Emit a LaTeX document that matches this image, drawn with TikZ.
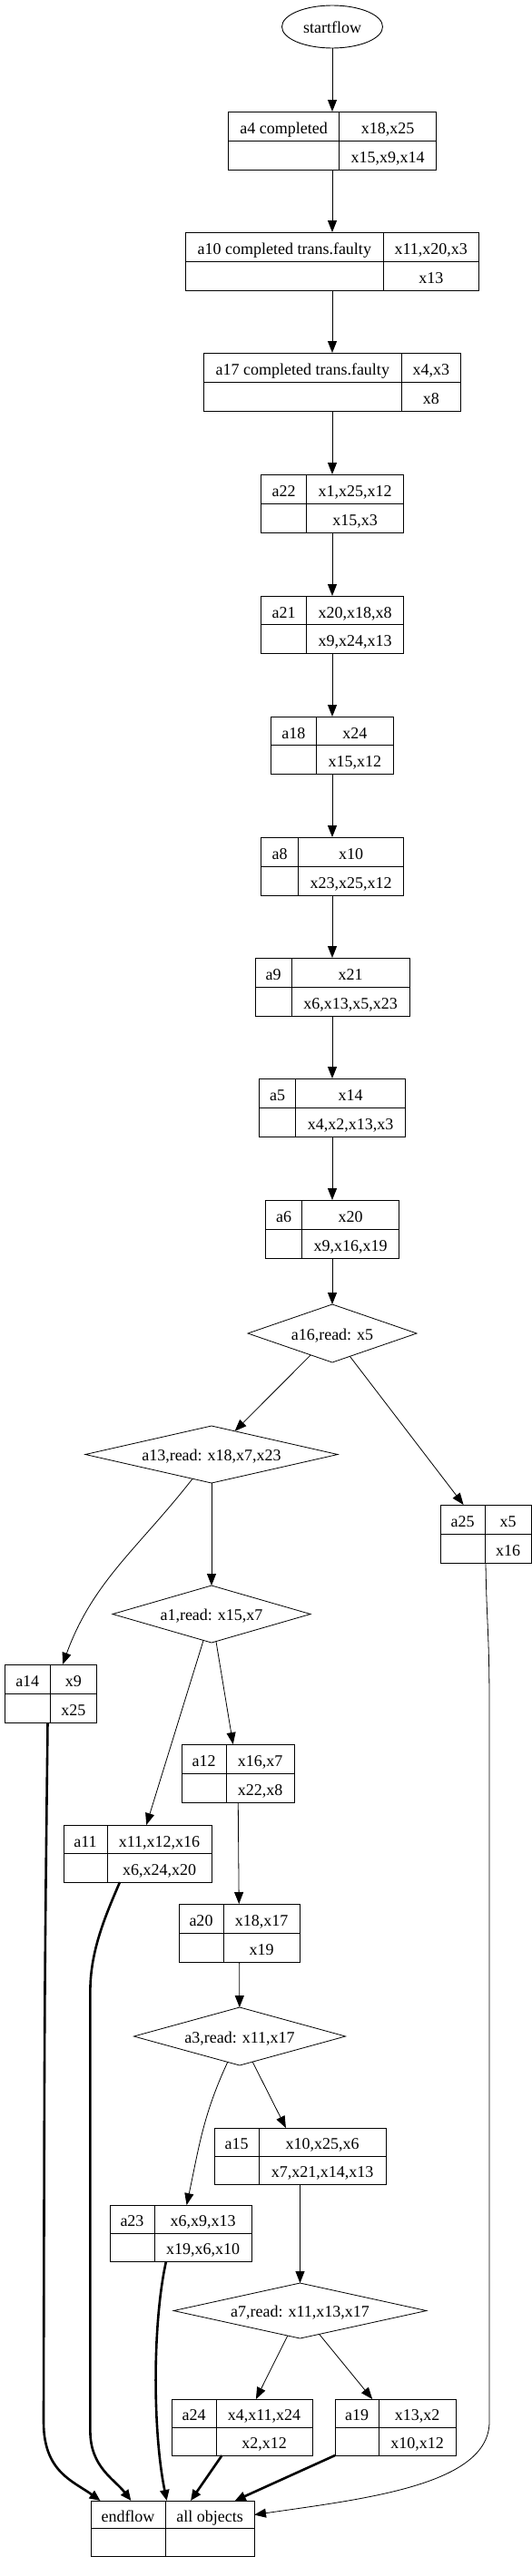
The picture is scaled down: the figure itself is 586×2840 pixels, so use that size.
\documentclass[tikz,border=0pt]{standalone}
\usepackage{fontspec}
\setmainfont{Liberation Serif}
\usetikzlibrary{arrows.meta,shapes.geometric,calc}
\tikzset{
  recbox/.style={draw, line width=1pt, inner sep=0pt, outer sep=0pt, anchor=north west},
  cell/.style={inner sep=0pt, text height=16.6pt, text depth=0pt, font=\fontsize{18}{20}\selectfont},
  dia/.style={diamond, draw, line width=0.8pt, inner sep=0pt, outer sep=0pt, shape aspect=4, text height=14pt, text depth=0pt, font=\fontsize{18}{20}\selectfont},
  ell/.style={ellipse, draw, line width=0.9pt, inner sep=0pt, outer sep=0pt, text height=14pt, text depth=0pt, font=\fontsize{18}{20}\selectfont},
  flow/.style={line width=1pt, -{Triangle[length=13pt,width=10pt]}},
  thinflow/.style={line width=0.8pt, -{Triangle[length=13pt,width=10pt]}},
  thickflow/.style={line width=2.6pt, -{Triangle[length=12pt,width=10pt]}},
}
% name, x1, y1, x2, y2, xdiv, left, topright, bottomright
\newcommand{\rec}[9]{%
  \node[recbox, minimum width={(#4-#2)*1pt}, minimum height={(#5-#3)*1pt}] (#1) at (#2,-#3) {};
  \draw[line width=1pt] (#6,-#3) -- (#6,-#5);
  \draw[line width=1pt] (#2,{-(#3+#5)/2}) -- (#4,{-(#3+#5)/2});
  \node[cell] (#1-l) at ({(#2+#6)/2},{-(3*#3+#5)/4}) {#7};
  \node[cell] (#1-t) at ({(#6+#4)/2},{-(3*#3+#5)/4}) {#8};
  \node[cell] (#1-b) at ({(#6+#4)/2},{-(#3+3*#5)/4}) {#9};
}
\begin{document}
\begin{tikzpicture}[x=1pt,y=1pt]
\path[fill=white,use as bounding box] (0,0) rectangle (586,-2840);

\node[ell, minimum width=111pt, minimum height=47pt] (startflow) at (366,-29.5) {startflow};
\rec{a4}{251.5}{123}{480.5}{187}{373.5}{a4 completed}{x18,x25}{x15,x9,x14}
\rec{a10}{204.5}{256}{527.5}{320}{422}{a10 completed trans.faulty}{x11,x20,x3}{x13}
\rec{a17}{224.5}{389}{507.5}{453}{442}{a17 completed trans.faulty}{x4,x3}{x8}
\rec{a22}{287.5}{523}{444.5}{587}{337.5}{a22}{x1,x25,x12}{x15,x3}
\rec{a21}{287.5}{657}{444.5}{720}{337.5}{a21}{x20,x18,x8}{x9,x24,x13}
\rec{a18}{298.5}{790}{433.5}{853}{348}{a18}{x24}{x15,x12}
\rec{a8}{287.5}{923}{444.5}{987}{328.5}{a8}{x10}{x23,x25,x12}
\rec{a9}{281}{1056}{451}{1120}{321}{a9}{x21}{x6,x13,x5,x23}
\rec{a5}{285.5}{1189}{446.5}{1253}{325.5}{a5}{x14}{x4,x2,x13,x3}
\rec{a6}{292.5}{1323}{439.5}{1387}{332.5}{a6}{x20}{x9,x16,x19}
\node[dia, minimum width=186pt, minimum height=64pt] (a16) at (366,-1470) {a16,read: x5};
\node[dia, minimum width=278pt, minimum height=63pt] (a13) at (233,-1603.5) {a13,read: x18,x7,x23};
\rec{a25}{485}{1659}{585}{1723}{534}{a25}{x5}{x16}
\node[dia, minimum width=218pt, minimum height=63pt] (a1) at (233,-1779.5) {a1,read: x15,x7};
\rec{a14}{5}{1835}{106}{1899}{55.5}{a14}{x9}{x25}
\rec{a12}{200}{1923}{324}{1987}{249}{a12}{x16,x7}{x22,x8}
\rec{a11}{70}{2012}{233}{2075}{118}{a11}{x11,x12,x16}{x6,x24,x20}
\rec{a20}{197}{2099}{330}{2163}{246}{a20}{x18,x17}{x19}
\node[dia, minimum width=233pt, minimum height=64pt] (a3) at (264,-2245) {a3,read: x11,x17};
\rec{a15}{236}{2346}{425}{2408}{285}{a15}{x10,x25,x6}{x7,x21,x14,x13}
\rec{a23}{121}{2431}{277}{2493}{170}{a23}{x6,x9,x13}{x19,x6,x10}
\node[dia, minimum width=278.5pt, minimum height=61pt] (a7) at (330.5,-2547.5) {a7,read: x11,x13,x17};
\rec{a24}{189}{2645}{344}{2707}{238}{a24}{x4,x11,x24}{x2,x12}
\rec{a19}{369}{2645}{502}{2707}{417}{a19}{x13,x2}{x10,x12}
\rec{endflow}{100}{2757}{280}{2818}{182}{endflow}{all objects}{}

% main chain
\draw[flow] (startflow) -- (a4);
\draw[flow] (a4) -- (a10);
\draw[flow] (a10) -- (a17);
\draw[flow] (a17) -- (a22);
\draw[flow] (a22) -- (a21);
\draw[flow] (a21) -- (a18);
\draw[flow] (a18) -- (a8);
\draw[flow] (a8) -- (a9);
\draw[flow] (a9) -- (a5);
\draw[flow] (a5) -- (a6);
\draw[flow] (a6) -- (a16);

% branches
\draw[thinflow] (a16) -- (a13);
\draw[thinflow] (a16) -- (a25);
\draw[thinflow] (a13) to[out=-128,in=70] ([xshift=13.5pt]a14.north);
\draw[thinflow] (a13) -- (a1);
\draw[thinflow] (a1) -- (a11);
\draw[thinflow] (a1) -- (a12);
\draw[thinflow] (a12) -- (a20);
\draw[thinflow] (a20) -- (a3);
\draw[thinflow] (a3) -- (a15);
\draw[thinflow] (a3) to[out=-115,in=78] (a23);
\draw[thinflow] (a15) -- (a7);
\draw[thinflow] (a7) -- (a24);
\draw[thinflow] (a7) -- (a19);
\draw[thinflow] (a25.south) .. controls (536,-1790) and (539,-1800) .. (539,-1880) -- (539,-2670)
  .. controls (539,-2740) and (400,-2755) .. ([yshift=15pt]endflow.east);

% into endflow
\draw[thickflow] ([xshift=-3pt]a14.south) .. controls (49,-2200) .. (48,-2670)
  .. controls (48,-2725) and (80,-2735) .. ([xshift=10.6pt]endflow.north west);
\draw[thickflow] ([xshift=-19.5pt]a11.south) .. controls (117,-2110) and (99.4,-2150) .. (99.4,-2195) -- (99.4,-2680)
  .. controls (99.4,-2720) and (126,-2733) .. ([xshift=44.4pt]endflow.north west);
\draw[thickflow] ([xshift=-16pt]a23.south) .. controls (168,-2560) and (168,-2680) .. ([xshift=83.7pt]endflow.north west);
\draw[thickflow] ([xshift=-22pt]a24.south) -- ([xshift=110pt]endflow.north west);
\draw[thickflow] (a19.south west) -- ([xshift=158.7pt]endflow.north west);
\end{tikzpicture}
\end{document}
